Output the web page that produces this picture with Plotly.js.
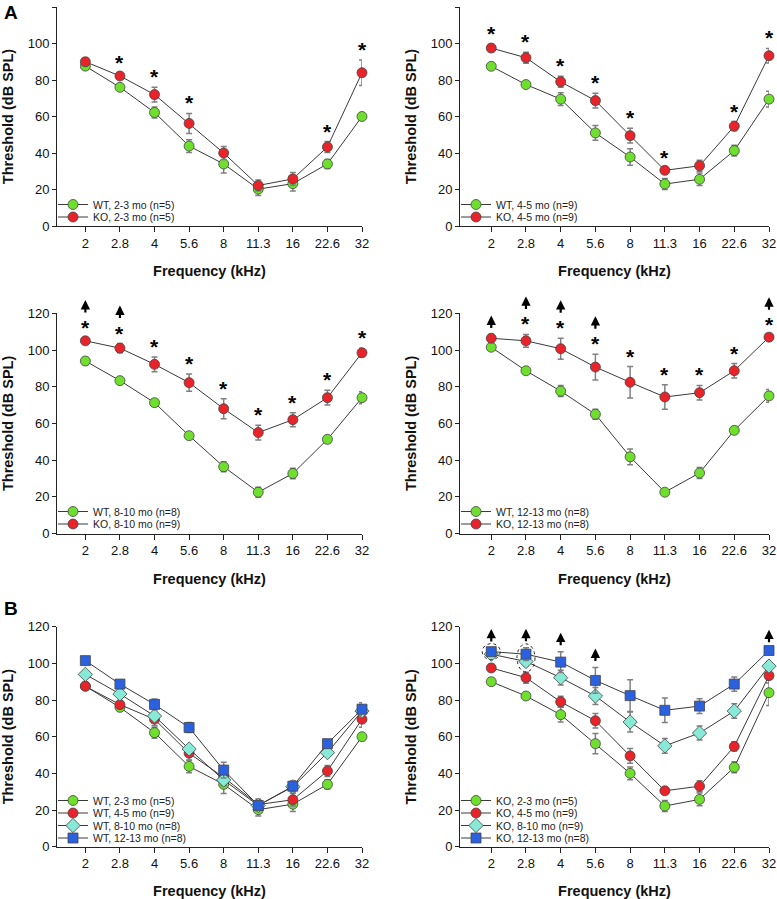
<!DOCTYPE html>
<html>
<head>
<meta charset="utf-8">
<script src="https://cdn.plot.ly/plotly-3.0.1.min.js"></script>
<style>html,body{margin:0;padding:0;background:#fff;}#chart{width:777px;height:899px;}</style>
</head>
<body>
<div id="chart"></div>
<script>
// ---------- DATA ----------
const freqLabels = ['2', '2.8', '4', '5.6', '8', '11.3', '16', '22.6', '32'];

const wt23 = [87.6, 76, 62.2, 43.8, 34, 20.2, 23.2, 34, 60];
const wt23Err = [1.5, 1, 3, 3.5, 5, 3.5, 4, 2.5, 2];
const ko23 = [90, 82.2, 72, 56.2, 40, 22.2, 25.8, 43.3, 84];
const ko23Err = [2, 1.5, 4, 5.5, 3.5, 3, 3.5, 3, 7];

const wt45 = [87.5, 77.5, 69.5, 51, 37.8, 23, 25.6, 41.3, 69.5];
const wt45Err = [1, 1.5, 3.5, 4, 4.5, 3, 3.4, 3, 4.3];
const ko45 = [97.5, 92.2, 79, 68.7, 49.5, 30.5, 33, 54.7, 93.3];
const ko45Err = [2, 3, 3, 4, 4, 1.5, 3, 2.5, 4];

const wt810 = [94, 83.3, 71.3, 53.3, 36.4, 22.5, 32.7, 51.3, 74];
const wt810Err = [2, 1.5, 1, 1, 2.7, 2.7, 2.9, 1, 3.3];
const ko810 = [105, 101, 92.2, 82.2, 68, 55, 62, 74, 98.5];
const ko810Err = [1.5, 2.5, 4, 4.7, 5.5, 4, 3.8, 4, 2.5];

const wt1213 = [101.5, 88.7, 77.6, 65, 41.8, 22.5, 33, 56.2, 75];
const wt1213Err = [1.5, 1.5, 3, 2.7, 4.3, 1, 3, 1, 3.5];
const ko1213 = [106.4, 105, 100.7, 90.7, 82.4, 74.4, 76.7, 88.7, 107];
const ko1213Err = [2, 3.5, 5.7, 7, 8.6, 6.7, 4, 3.9, 1];

// significance stars (KO vs WT) and "above limit" arrows
const sig23 = [0, 1, 1, 1, 0, 0, 0, 1, 1];
const sig45 = [1, 1, 1, 1, 1, 1, 0, 1, 1];
const sig810 = [1, 1, 1, 1, 1, 1, 1, 1, 1];
const sig1213 = [0, 1, 1, 1, 1, 1, 1, 1, 1];
const up810 = [1, 1, 0, 0, 0, 0, 0, 0, 0];
const up1213 = [1, 1, 1, 1, 0, 0, 0, 0, 1];

const yTicks = [0, 20, 40, 60, 80, 100, 120];

// ---------- STYLE ----------
const C = {green: '#6ddf2c', red: '#e8232a', cyan: '#86ead6', blue: '#2b61df'};
const W = 777, H = 899;
const idx = freqLabels.map((f, i) => i);

function tr(name, y, err, color, symbol, ax, leg) {
  return {
    type: 'scatter', mode: 'lines+markers', name: name,
    x: idx, y: y, xaxis: 'x' + ax, yaxis: 'y' + ax, legend: leg,
    cliponaxis: false,
    line: {color: '#3a3a3a', width: 1},
    marker: {color: color, symbol: symbol, size: symbol === 'diamond' ? 11 : 10,
             line: {color: '#444', width: 0.8}},
    error_y: {type: 'data', array: err, visible: true, color: '#808080', thickness: 1.5, width: 3}
  };
}

const traces = [
  tr('WT, 2-3 mo (n=5)', wt23, wt23Err, C.green, 'circle', '', 'legend'),
  tr('KO, 2-3 mo (n=5)', ko23, ko23Err, C.red, 'circle', '', 'legend'),
  tr('WT, 4-5 mo (n=9)', wt45, wt45Err, C.green, 'circle', '2', 'legend2'),
  tr('KO, 4-5 mo (n=9)', ko45, ko45Err, C.red, 'circle', '2', 'legend2'),
  tr('WT, 8-10 mo (n=8)', wt810, wt810Err, C.green, 'circle', '3', 'legend3'),
  tr('KO, 8-10 mo (n=9)', ko810, ko810Err, C.red, 'circle', '3', 'legend3'),
  tr('WT, 12-13 mo (n=8)', wt1213, wt1213Err, C.green, 'circle', '4', 'legend4'),
  tr('KO, 12-13 mo (n=8)', ko1213, ko1213Err, C.red, 'circle', '4', 'legend4'),
  tr('WT, 2-3 mo (n=5)', wt23, wt23Err, C.green, 'circle', '5', 'legend5'),
  tr('WT, 4-5 mo (n=9)', wt45, wt45Err, C.red, 'circle', '5', 'legend5'),
  tr('WT, 8-10 mo (n=8)', wt810, wt810Err, C.cyan, 'diamond', '5', 'legend5'),
  tr('WT, 12-13 mo (n=8)', wt1213, wt1213Err, C.blue, 'square', '5', 'legend5'),
  tr('KO, 2-3 mo (n=5)', ko23, ko23Err, C.green, 'circle', '6', 'legend6'),
  tr('KO, 4-5 mo (n=9)', ko45, ko45Err, C.red, 'circle', '6', 'legend6'),
  tr('KO, 8-10 mo (n=9)', ko810, ko810Err, C.cyan, 'diamond', '6', 'legend6'),
  tr('KO, 12-13 mo (n=8)', ko1213, ko1213Err, C.blue, 'square', '6', 'legend6')
];

const FONT = 'Liberation Sans, Arial, sans-serif';
const rows = [[7, 226], [313.3, 533.5], [626.7, 846.7]];
const cols = [[57, 362, -0.82], [460, 769, -0.9]];

function xax(c, r) {
  return {
    domain: [cols[c][0] / W, cols[c][1] / W], range: [cols[c][2], 8],
    anchor: 'y' + (r * 2 + c + 1 === 1 ? '' : (r * 2 + c + 1)),
    tickmode: 'array', tickvals: idx, ticktext: freqLabels,
    ticks: 'outside', ticklen: 5, tickcolor: '#222',
    showline: true, linecolor: '#222', linewidth: 1, showgrid: false, zeroline: false,
    tickfont: {family: FONT, size: 13, color: '#111'},
    title: {text: 'Frequency (kHz)', font: {family: FONT, size: 14.5, color: '#111', weight: 'bold'}, standoff: 16}
  };
}
function yax(c, r) {
  return {
    domain: [1 - rows[r][1] / H, 1 - rows[r][0] / H], range: [0, 120],
    anchor: 'x' + (r * 2 + c + 1 === 1 ? '' : (r * 2 + c + 1)),
    tickmode: 'array', tickvals: yTicks,
    ticks: 'outside', ticklen: 4, tickcolor: '#222',
    showline: true, linecolor: '#222', linewidth: 1, showgrid: false, zeroline: false,
    tickfont: {family: FONT, size: 13, color: '#111'},
    title: {text: 'Threshold (dB SPL)', font: {family: FONT, size: 14.5, color: '#111', weight: 'bold'}, standoff: 10}
  };
}

function leg(xpx, ypx) {
  return {x: xpx / W, y: 1 - ypx / H, xanchor: 'left', yanchor: 'top',
          bgcolor: 'rgba(0,0,0,0)', itemwidth: 30,
          font: {family: FONT, size: 10.5, color: '#222'}, tracegroupgap: 0};
}

const layout = {
  width: W, height: H, margin: {l: 0, r: 0, t: 0, b: 0},
  paper_bgcolor: '#fff', plot_bgcolor: 'rgba(0,0,0,0)', showlegend: true,
  font: {family: FONT},
  legend: leg(53, 190), legend2: leg(456, 190),
  legend3: leg(53, 497), legend4: leg(456, 497),
  legend5: leg(53, 786), legend6: leg(456, 786),
  annotations: [], shapes: []
};
for (let r = 0; r < 3; r++) for (let c = 0; c < 2; c++) {
  const n = r * 2 + c + 1, s = n === 1 ? '' : n;
  layout['xaxis' + s] = xax(c, r);
  layout['yaxis' + s] = yax(c, r);
}

function addStars(ax, vals, errs, sig) {
  sig.forEach((s, i) => { if (s) layout.annotations.push({
    xref: 'x' + ax, yref: 'y' + ax, x: idx[i], y: vals[i] + errs[i], yanchor: 'bottom',
    text: '*', showarrow: false, yshift: -3,
    font: {family: FONT, size: 21, color: '#000', weight: 'bold'}
  }); });
}
function addArrows(ax, vals, errs, up, sig) {
  up.forEach((u, i) => { if (u) layout.annotations.push({
    xref: 'x' + ax, yref: 'y' + ax, x: idx[i], y: vals[i] + errs[i],
    text: '', showarrow: true, ax: 0, ay: 13, yshift: (sig && sig[i]) ? 38 : 19,
    font: {size: 1}, borderpad: 0,
    arrowhead: 2, arrowsize: 0.85, arrowwidth: 2.2, arrowcolor: '#000'
  }); });
}
addStars('', ko23, ko23Err, sig23);
addStars('2', ko45, ko45Err, sig45);
addStars('3', ko810, ko810Err, sig810);
addStars('4', ko1213, ko1213Err, sig1213);
addArrows('3', ko810, ko810Err, up810, sig810);
addArrows('4', ko1213, ko1213Err, up1213, sig1213);
addArrows('6', ko1213, ko1213Err, up1213, null);

// panel letters
layout.annotations.push({xref: 'paper', yref: 'paper', x: 2 / W, y: 1 - 12 / H, xanchor: 'left', yanchor: 'middle',
  text: 'A', showarrow: false, font: {family: FONT, size: 19, color: '#000', weight: 'bold'}});
layout.annotations.push({xref: 'paper', yref: 'paper', x: 2 / W, y: 1 - 608 / H, xanchor: 'left', yanchor: 'middle',
  text: 'B', showarrow: false, font: {family: FONT, size: 19, color: '#000', weight: 'bold'}});

// dotted circles in KO age panel
layout.shapes.push({type: 'circle', xref: 'x6', yref: 'y6', xsizemode: 'pixel', ysizemode: 'pixel',
  xanchor: idx[0], yanchor: ko1213[0], x0: -9, x1: 9, y0: -8, y1: 8,
  line: {color: '#222', width: 1, dash: 'dot'}});
layout.shapes.push({type: 'circle', xref: 'x6', yref: 'y6', xsizemode: 'pixel', ysizemode: 'pixel',
  xanchor: idx[1], yanchor: (ko1213[1] + ko810[1]) / 2, x0: -9, x1: 9, y0: -14, y1: 14,
  line: {color: '#222', width: 1, dash: 'dot'}});

Plotly.newPlot('chart', traces, layout, {displayModeBar: false, staticPlot: true}).then(() => {
  // tighten legend row spacing to match the compact legends of the original figure
  const sel = ['legend', 'legend2', 'legend3', 'legend4', 'legend5', 'legend6'].map(c => 'g.' + c).join(',');
  document.querySelectorAll(sel).forEach(lg => {
    let y0 = null;
    lg.querySelectorAll('g.traces').forEach((it, i) => {
      const m = /translate\(\s*([-\d.e]+)[ ,]+([-\d.e]+)\s*\)/.exec(it.getAttribute('transform') || '');
      if (!m) return;
      const x = +m[1], y = +m[2];
      if (y0 === null) y0 = y;
      it.setAttribute('transform', 'translate(' + x + ',' + (y0 + i * 12.5) + ')');
    });
  });
});
</script>
</body>
</html>
